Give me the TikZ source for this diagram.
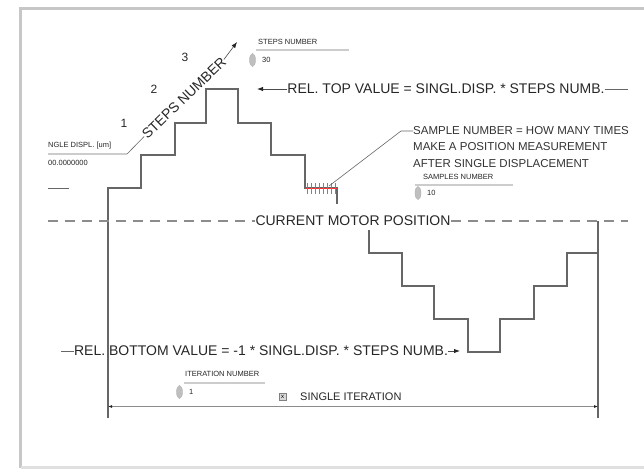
\documentclass[tikz,border=0pt]{standalone}
\usepackage{fontspec}
\setmainfont{Liberation Sans}
\usetikzlibrary{arrows.meta,shapes.geometric}

\begin{document}
\begin{tikzpicture}[x=1pt,y=-1pt,
stair/.style={draw=black!60, line width=1.4pt},
guide/.style={draw=black!45, line width=2.2pt, dash pattern=on 10pt off 7pt},
big/.style={text=black!85, inner sep=0pt, font=\fontsize{14}{15}\selectfont},
note/.style={text=black!80, inner sep=0pt, align=left, font=\fontsize{11.5}{16.5}\selectfont},
small/.style={text=black!85, inner sep=0pt, font=\fontsize{11}{12}\selectfont},
tag/.style={text=black!85, inner sep=0pt, font=\fontsize{7.5}{8}\selectfont},
field/.style={draw=black!20, line width=1.6pt},
spin/.style={ellipse, draw=black!30, fill=black!25, minimum width=6pt, minimum height=13pt, inner sep=0pt},
chkbox/.style={draw=black!50, fill=black!15, minimum size=7pt, inner sep=0pt, font=\fontsize{6}{6}\selectfont},
lead/.style={draw=black!60, line width=0.6pt},
arrow/.style={-{Latex[length=6pt,width=4.5pt,color=black!85]}, draw=black!70, line width=0.9pt},
dimline/.style={{Latex[length=4pt,width=3pt,color=black!85]}-{Latex[length=4pt,width=3pt,color=black!85]}, draw=black!45, line width=1.2pt}
]
\useasboundingbox (0,0) rectangle (644,472);
\draw[draw=black!22, line width=3pt] (20.5,468) -- (20.5,8.5) -- (644,8.5);
\draw[draw=black!12, line width=3pt] (20.5,467.5) -- (644,467.5);

\draw[stair] (108,418) |- (141,188) |- (175,155) |- (206,123) |- (238,89)
  |- (271,123) |- (305,155) |- (337,188) -- (337,204);
\draw[stair] (369,230) |- (402,253) |- (434,286) |- (468,319) |- (500,352)
  |- (534,319) |- (567,286) |- (598,253);
\draw[stair] (598,221) -- (598,418);
\draw[stair, line width=1pt] (48,188) -- (69,188);

\draw[red!80, line width=1pt] (305,188) -- (337,188);
\foreach \x in {307,311,...,335}
  \draw[red!70, line width=0.8pt] (\x,183) -- (\x,194);

\node[big] (curpos) at (353,221) {CURRENT MOTOR POSITION};
\coordinate (dashL) at (48,221);
\coordinate (dashR) at (628,221);
\draw[guide] (dashL) -- (curpos.west);
\draw[guide] (curpos.east) -- (dashR);

\node[big] (topval) at (446,89) {REL. TOP VALUE = SINGL.DISP. * STEPS NUMB.};
\coordinate (topTip) at (257,89);
\coordinate (topEnd) at (628,89);
\draw[arrow] (topval.west) -- (topTip);
\draw[lead, line width=0.9pt] (topval.east) -- (topEnd);

\node[big] (botval) at (261,351) {REL. BOTTOM VALUE = -1 * SINGL.DISP. * STEPS NUMB.};
\coordinate (botStart) at (61,351);
\coordinate (botTip) at (460,351);
\draw[lead, line width=0.9pt] (botStart) -- (botval.west);
\draw[arrow] (botval.east) -- (botTip);

\node[big, rotate=44] (stepsTxt) at (184,98) {STEPS NUMBER};
\coordinate (stepsTip) at (237,42);
\coordinate (displEnd) at (127,154);
\draw[lead] (displEnd) -- (stepsTxt.west);
\draw[arrow, line width=0.6pt] (stepsTxt.east) -- (stepsTip);

\node[small, font=\fontsize{12}{12}\selectfont] (one) at (124,123) {1};
\node[small, font=\fontsize{12}{12}\selectfont] (two) at (154,89) {2};
\node[small, font=\fontsize{12}{12}\selectfont] (three) at (185,57) {3};

\node[tag, anchor=west] (displLbl) at (48,146) {NGLE DISPL. [um]};
\draw[field] (48,154) -- (displEnd);
\node[tag, anchor=west] (displVal) at (48,163) {00.0000000};

\node[tag, anchor=west] (stepsLbl) at (258,42) {STEPS NUMBER};
\draw[field] (256,50) -- (349,50);
\node[spin] (stepsSpin) at (252.5,60) {};
\node[tag, anchor=west] (stepsVal) at (262,60) {30};

\node[note, anchor=west] (sampTxt) at (413,147) {SAMPLE NUMBER = HOW MANY TIMES\\MAKE A POSITION MEASUREMENT\\AFTER SINGLE DISPLACEMENT};
\coordinate (sampBend) at (401,131);
\coordinate (sampEnd) at (329,186);
\draw[lead] (sampTxt.north west |- 0,131) -- (sampBend) -- (sampEnd);

\node[tag, anchor=west] (sampLbl) at (423,177) {SAMPLES NUMBER};
\draw[field] (415,185) -- (513,185);
\node[spin] (sampSpin) at (418,193) {};
\node[tag, anchor=west] (sampVal) at (427,193) {10};

\node[tag, anchor=west] (iterLbl) at (185,374) {ITERATION NUMBER};
\draw[field] (184,383) -- (265,383);
\node[spin] (iterSpin) at (179.5,392) {};
\node[tag, anchor=west] (iterVal) at (189,392) {1};

\node[chkbox] (chk) at (282.5,397) {x};
\node[small, anchor=west] (single) at (300,397) {SINGLE ITERATION};

\coordinate (iterL) at (108,406.5);
\coordinate (iterR) at (598,406.5);
\draw[dimline] (iterL) -- (iterR);
\end{tikzpicture}
\end{document}
